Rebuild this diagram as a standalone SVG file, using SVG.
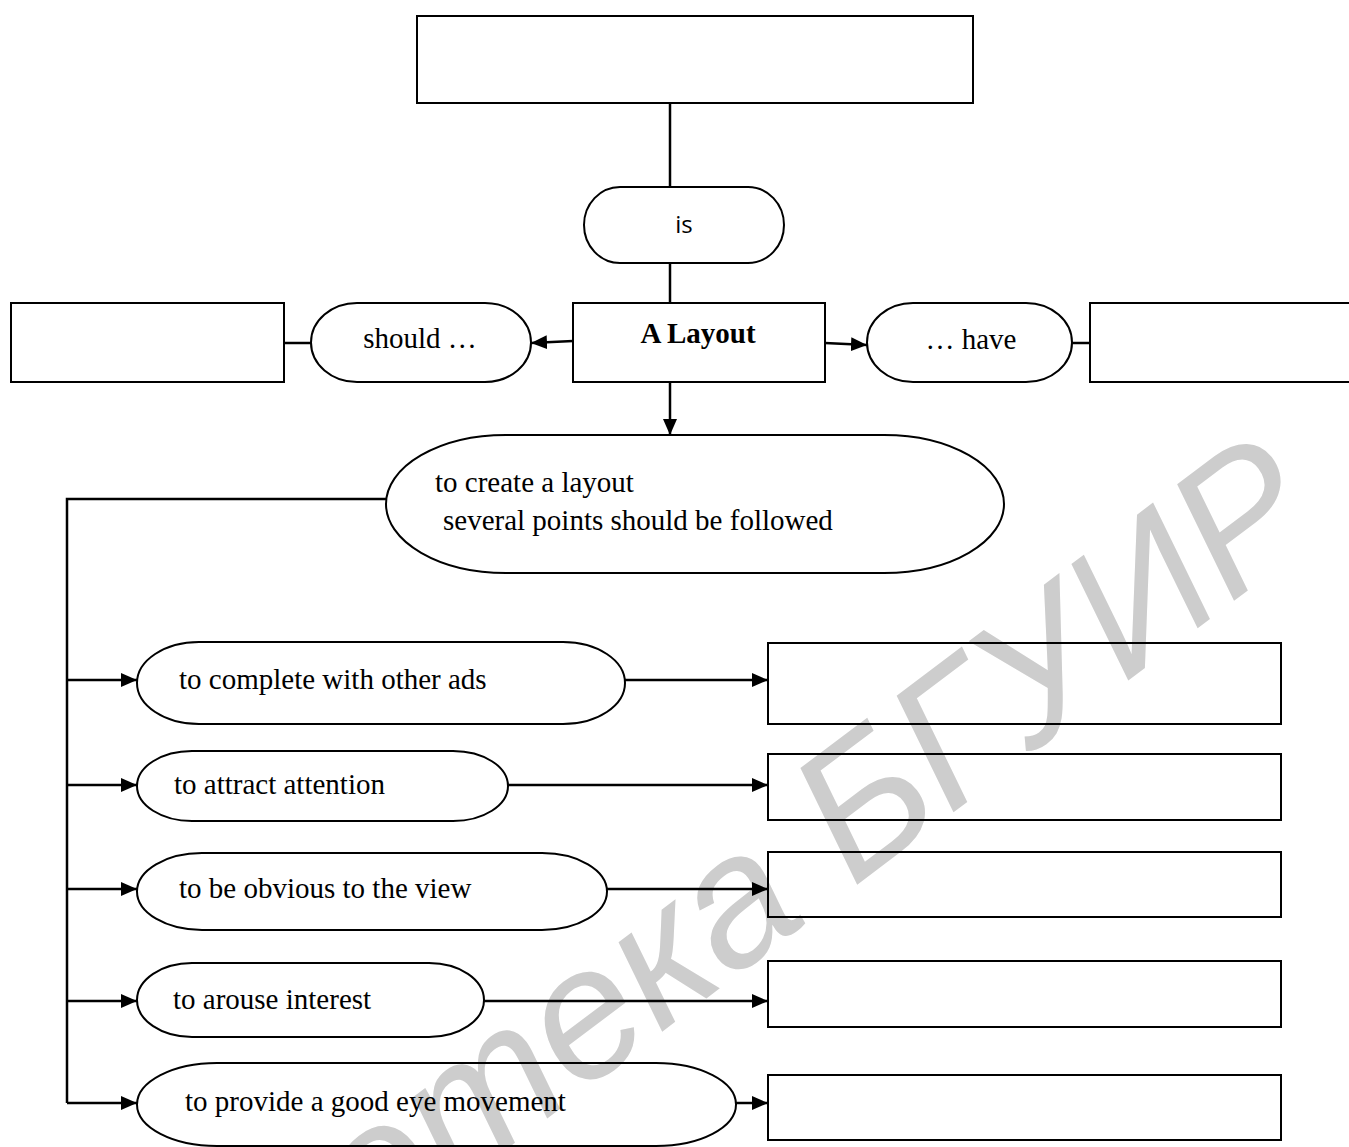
<svg xmlns="http://www.w3.org/2000/svg" width="1349" height="1147" viewBox="0 0 1349 1147">
<style>
.n{fill:none;stroke:#000;stroke-width:2}
.c{fill:none;stroke:#000;stroke-width:2.5}
.t{font-family:"Liberation Serif","Times New Roman",serif;font-size:29px;fill:#000}
.s{font-family:"Open Sans","Liberation Sans",sans-serif;font-size:24px;fill:#000}
.wm{font-family:"Liberation Sans",Arial,sans-serif;font-style:italic;font-size:185px;fill:#cdcdcd}
</style>
<defs>
<marker id="ah" viewBox="0 0 16 14" refX="16" refY="7" markerWidth="16" markerHeight="14" markerUnits="userSpaceOnUse" orient="auto">
<path d="M0,0 L16,7 L0,14 z" fill="#000"/>
</marker>
</defs>
<rect width="1349" height="1147" fill="#fff"/>
<text class="wm" text-anchor="end" transform="translate(1328,530) rotate(-37)">Библиотека БГУИР</text>

<g id="connectors">
<line class="c" x1="670" y1="103" x2="670" y2="187"/>
<line class="c" x1="670" y1="263" x2="670" y2="303"/>
<line class="c" x1="573" y1="341" x2="531" y2="343" marker-end="url(#ah)"/>
<line class="c" x1="825" y1="343" x2="867" y2="345" marker-end="url(#ah)"/>
<line class="c" x1="284" y1="343" x2="311" y2="343"/>
<line class="c" x1="1072" y1="343" x2="1090" y2="343"/>
<line class="c" x1="670" y1="382" x2="670" y2="435" marker-end="url(#ah)"/>
<polyline class="c" points="386,499 67,499 67,1103"/>
<line class="c" x1="67" y1="680" x2="137" y2="680" marker-end="url(#ah)"/>
<line class="c" x1="67" y1="785" x2="137" y2="785" marker-end="url(#ah)"/>
<line class="c" x1="67" y1="889" x2="137" y2="889" marker-end="url(#ah)"/>
<line class="c" x1="67" y1="1001" x2="137" y2="1001" marker-end="url(#ah)"/>
<line class="c" x1="67" y1="1103" x2="137" y2="1103" marker-end="url(#ah)"/>
<line class="c" x1="625" y1="680" x2="768" y2="680" marker-end="url(#ah)"/>
<line class="c" x1="508" y1="785" x2="768" y2="785" marker-end="url(#ah)"/>
<line class="c" x1="607" y1="889" x2="768" y2="889" marker-end="url(#ah)"/>
<line class="c" x1="484" y1="1001" x2="768" y2="1001" marker-end="url(#ah)"/>
<line class="c" x1="736" y1="1103" x2="768" y2="1103" marker-end="url(#ah)"/>
</g>

<g id="top-box"><rect class="n" x="417" y="16" width="556" height="87"/></g>
<g id="is"><rect class="n" x="584" y="187" width="200" height="76" rx="36" ry="38"/><text class="s" x="684" y="233" text-anchor="middle">is</text></g>
<g id="a-layout"><rect class="n" x="573" y="303" width="252" height="79"/><text class="t" x="698" y="343" text-anchor="middle" font-weight="bold" font-size="31">A Layout</text></g>
<g id="left-box"><rect class="n" x="11" y="303" width="273" height="79"/></g>
<g id="should"><rect class="n" x="311" y="303" width="220" height="79" rx="46" ry="39.5"/><text class="t" x="420" y="348" text-anchor="middle" font-size="28">should …</text></g>
<g id="have"><rect class="n" x="867" y="303" width="205" height="79" rx="46" ry="39.5"/><text class="t" x="971" y="349" text-anchor="middle" font-size="28">… have</text></g>
<g id="right-box"><rect class="n" x="1090" y="303" width="270" height="79"/></g>
<g id="create"><rect class="n" x="386" y="435" width="618" height="138" rx="120" ry="69"/>
<text class="t" x="435" y="492" font-size="30">to create a layout</text>
<text class="t" x="443" y="530" font-size="28">several points should be followed</text></g>

<g id="p1"><rect class="n" x="137" y="642" width="488" height="82" rx="62" ry="41"/><text class="t" x="179" y="689">to complete with other ads</text></g>
<g id="p2"><rect class="n" x="137" y="751" width="371" height="70" rx="55" ry="35"/><text class="t" x="174" y="794">to attract attention</text></g>
<g id="p3"><rect class="n" x="137" y="853" width="470" height="77" rx="65" ry="38.5"/><text class="t" x="179" y="898">to be obvious to the view</text></g>
<g id="p4"><rect class="n" x="137" y="963" width="347" height="74" rx="55" ry="37"/><text class="t" x="173" y="1009">to arouse interest</text></g>
<g id="p5"><rect class="n" x="137" y="1063" width="599" height="83" rx="80" ry="41.5"/><text class="t" x="185" y="1111">to provide a good eye movement</text></g>

<g id="b1"><rect class="n" x="768" y="643" width="513" height="81"/></g>
<g id="b2"><rect class="n" x="768" y="754" width="513" height="66"/></g>
<g id="b3"><rect class="n" x="768" y="852" width="513" height="65"/></g>
<g id="b4"><rect class="n" x="768" y="961" width="513" height="66"/></g>
<g id="b5"><rect class="n" x="768" y="1075" width="513" height="65"/></g>
</svg>
